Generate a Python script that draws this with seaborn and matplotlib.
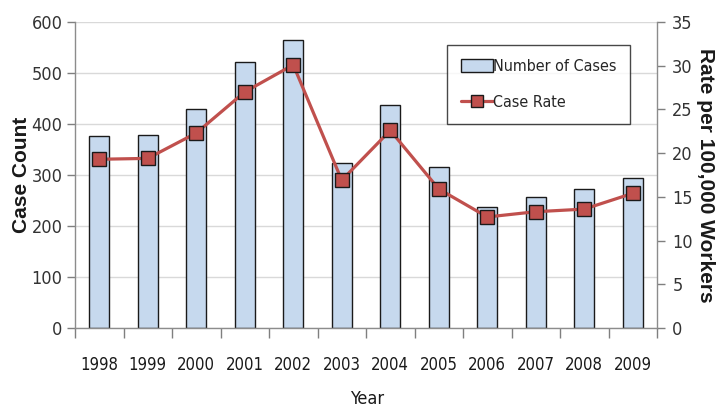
import matplotlib
matplotlib.use("Agg")
import matplotlib.pyplot as plt
import seaborn as sns
import numpy as np
import pandas as pd
from matplotlib.lines import Line2D
from matplotlib.patches import Patch
from matplotlib.font_manager import FontProperties

years = ["1998", "1999", "2000", "2001", "2002", "2003",
         "2004", "2005", "2006", "2007", "2008", "2009"]
case_counts = [376, 378, 429, 521, 565, 323, 437, 316, 237, 257, 272, 294]
case_rates = [19.3, 19.4, 22.3, 27.0, 30.1, 16.9, 22.6, 15.9, 12.7, 13.3, 13.6, 15.4]

count_ticks = [0, 100, 200, 300, 400, 500, 600]
rate_ticks = [0, 5, 10, 15, 20, 25, 30, 35]

sns.set_theme(style="white")
plt.rcParams["font.family"] = ["DejaVu Sans"]
plt.rcParams["font.stretch"] = "condensed"

bold_label = FontProperties(family="Liberation Sans", weight="bold", stretch="normal", size=15)

df = pd.DataFrame({"year": years, "count": case_counts, "rate": case_rates,
                   "idx": np.arange(len(years))})

W, H = 726, 415
fig = plt.figure(figsize=(W / 100, H / 100), dpi=100)
ax = fig.add_axes([75 / W, 1 - 328 / H, (657 - 75) / W, (328 - 22) / H])

bar_color = "#C6D9EE"
line_color = "#C0504D"

sns.barplot(data=df, x="year", y="count", ax=ax, color=bar_color, width=0.42,
            edgecolor="#1a1a1a", linewidth=1.0, saturation=1, zorder=2)
ax.set_xlim(-0.5, len(years) - 0.5)
ax.set_ylim(0, 600)
ax.set_yticks(count_ticks)
ax.yaxis.grid(True, color="#d9d9d9", linewidth=1.0, zorder=0)
ax.set_axisbelow(True)

# category boundaries carry the x ticks, labels sit on the bar centres
ax.set_xticks(np.arange(-0.5, len(years), 1.0), minor=False)
ax.set_xticklabels([])
ax.set_xticks(np.arange(len(years)), minor=True)
ax.set_xticklabels(years, minor=True, fontsize=12, color="#1a1a1a")
ax.tick_params(axis="x", which="major", direction="out", length=7, width=1, color="#7f7f7f", bottom=True)
ax.tick_params(axis="x", which="minor", length=0, pad=20)
ax.tick_params(axis="y", direction="out", length=6, width=1, color="#7f7f7f", left=True, pad=3,
               labelsize=13, labelcolor="#333333")

for side in ["top", "right"]:
    ax.spines[side].set_visible(False)
for side in ["left", "bottom"]:
    ax.spines[side].set_color("#8c8c8c")
    ax.spines[side].set_linewidth(1.0)

ax.set_xlabel("Year", fontsize=13, color="#1a1a1a", va="center")
ax.xaxis.set_label_coords((367 - 75) / 582, -(399 - 328) / 306)
ax.set_ylabel("Case Count", fontproperties=bold_label, color="#1a1a1a", va="center")
ax.yaxis.set_label_coords(-(75 - 22) / 582, 0.5)

ax2 = ax.twinx()
sns.lineplot(data=df, x="idx", y="rate", ax=ax2, color=line_color, linewidth=2.3,
             marker="s", markersize=10, markeredgecolor="#1a1a1a",
             markeredgewidth=1.0, markerfacecolor=line_color, zorder=3)
ax2.set_xlim(-0.5, len(years) - 0.5)
ax2.set_ylim(0, 35)
ax2.set_yticks(rate_ticks)
ax2.tick_params(axis="y", direction="out", length=6, width=1, color="#7f7f7f", right=True, pad=5,
                labelsize=13, labelcolor="#333333")
for side in ["top", "left", "bottom"]:
    ax2.spines[side].set_visible(False)
ax2.spines["right"].set_color("#8c8c8c")
ax2.spines["right"].set_linewidth(1.0)
ax2.set_xlabel("")
ax2.set_ylabel("Rate per 100,000 Workers", fontproperties=bold_label,
               rotation=270, color="#1a1a1a", va="center")
ax2.yaxis.set_label_coords(1 + (706 - 657) / 582, 0.5)

handles = [
    Patch(facecolor=bar_color, edgecolor="#1a1a1a", linewidth=1.0, label="Number of Cases"),
    Line2D([0], [0], color=line_color, linewidth=2.3, marker="s", markersize=9,
           markerfacecolor=line_color, markeredgecolor="#1a1a1a", label="Case Rate"),
]
leg = ax2.legend(handles=handles, loc="upper left",
                 bbox_to_anchor=((447 - 75) / 582, 1 - (45 - 22) / 306),
                 borderaxespad=0, frameon=True, fancybox=False, handlelength=2.0,
                 handleheight=0.9, handletextpad=0.05, labelspacing=1.35, borderpad=0.85,
                 prop={"size": 11.5, "stretch": "condensed"})
leg.get_frame().set_edgecolor("#1a1a1a")
leg.get_frame().set_linewidth(1.0)

fig.savefig("out.png", dpi=100)
